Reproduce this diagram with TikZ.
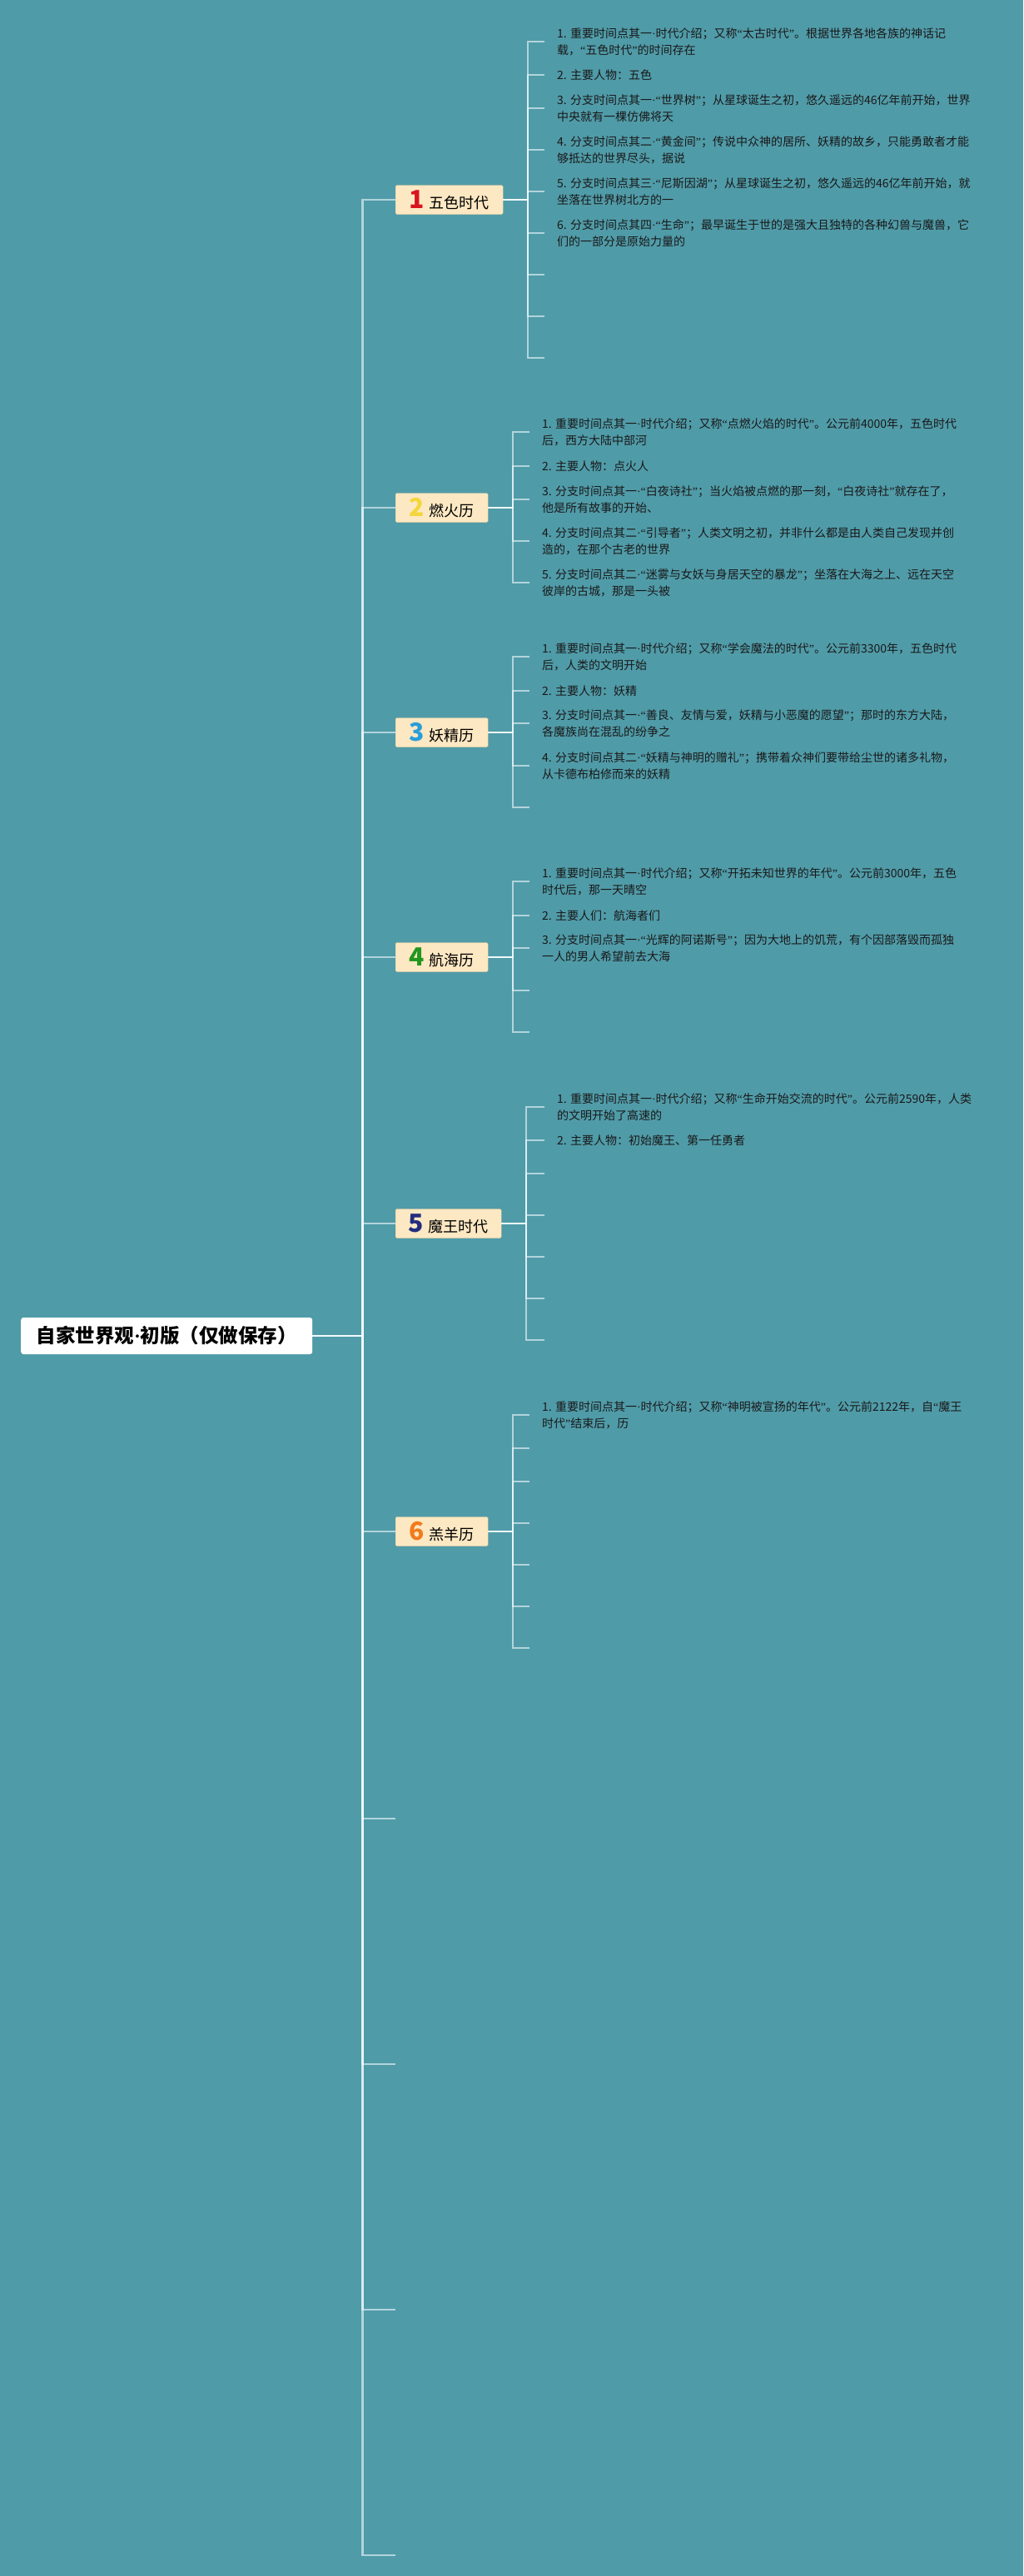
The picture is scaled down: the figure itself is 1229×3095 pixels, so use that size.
\documentclass[tikz,border=0pt]{standalone}
\usepackage{fontspec}
\usepackage{newunicodechar}
\setmainfont{Noto Sans CJK SC}
\newfontfamily\latinfont{Liberation Serif}
\newunicodechar{“}{{\latinfont\symbol{"201C}}}
\newunicodechar{”}{{\latinfont\symbol{"201D}}}
\newunicodechar{·}{{\latinfont\symbol{"00B7}}}
\usepackage{tikz}
\definecolor{bg}{HTML}{509BA8}
\definecolor{boxfill}{HTML}{FCE8C3}
\definecolor{boxline}{HTML}{E2C796}
\definecolor{linec}{HTML}{F2FBFF}
\definecolor{n1}{HTML}{D9151F}
\definecolor{n2}{HTML}{F4D63C}
\definecolor{n3}{HTML}{2B9ED9}
\definecolor{n4}{HTML}{22961F}
\definecolor{n5}{HTML}{232C7E}
\definecolor{n6}{HTML}{F27B1C}
\newcommand{\badge}[2]{{\fontsize{30}{30}\selectfont\bfseries\color{#1}#2}\hspace{6pt}}

\begin{document}
\begin{tikzpicture}[x=1pt,y=-1pt,
  root/.style={fill=white,rounded corners=3pt,anchor=west,minimum width=350pt,minimum height=44pt,font=\fontsize{23.5}{23.5}\selectfont\bfseries},
  topic/.style={draw=boxline,fill=boxfill,rounded corners=1.5pt,anchor=west,minimum height=35pt,inner xsep=0pt,inner ysep=0pt,font=\fontsize{18}{18}\selectfont},
  leaf/.style={anchor=west,align=left,inner xsep=15pt,inner ysep=0pt,font=\fontsize{14}{20}\selectfont,text=black!90},
  link/.style={draw=linec,draw opacity=0.6,line width=2.5pt},
  sublink/.style={draw=linec,draw opacity=0.6,line width=2pt}]
  \fill[bg] (0,0) rectangle (1229,3095);
  \useasboundingbox (0,0) rectangle (1229,3095);

  \node[root] (root) at (25,1605) {自家世界观·初版（仅做保存）};

  % main topics
  \node[topic,minimum width=129pt] (b1) at (475,240) {\badge{n1}{1}五色时代};
  \node[topic,minimum width=111pt] (b2) at (475,610) {\badge{n2}{2}燃火历};
  \node[topic,minimum width=111pt] (b3) at (475,880) {\badge{n3}{3}妖精历};
  \node[topic,minimum width=111pt] (b4) at (475,1150) {\badge{n4}{4}航海历};
  \node[topic,minimum width=127pt] (b5) at (475,1470) {\badge{n5}{5}魔王时代};
  \node[topic,minimum width=111pt] (b6) at (475,1840) {\badge{n6}{6}羔羊历};
  \coordinate (b7) at (475,2185);
  \coordinate (b8) at (475,2480);
  \coordinate (b9) at (475,2775);
  \coordinate (b10) at (475,3070);

  % 五色时代
  \node[leaf] (l11) at (654,50) {1. 重要时间点其一·时代介绍；又称“太古时代”。根据世界各地各族的神话记\\载，“五色时代”的时间存在};
  \node[leaf] (l12) at (654,90) {2. 主要人物：五色};
  \node[leaf] (l13) at (654,130) {3. 分支时间点其一·“世界树”；从星球诞生之初，悠久遥远的46亿年前开始，世界\\中央就有一棵仿佛将天};
  \node[leaf] (l14) at (654,180) {4. 分支时间点其二·“黄金间”；传说中众神的居所、妖精的故乡，只能勇敢者才能\\够抵达的世界尽头，据说};
  \node[leaf] (l15) at (654,230) {5. 分支时间点其三·“尼斯因湖”；从星球诞生之初，悠久遥远的46亿年前开始，就\\坐落在世界树北方的一};
  \node[leaf] (l16) at (654,280) {6. 分支时间点其四·“生命”；最早诞生于世的是强大且独特的各种幻兽与魔兽，它\\们的一部分是原始力量的};
  \coordinate (l17) at (654,330);
  \coordinate (l18) at (654,380);
  \coordinate (l19) at (654,430);

  % 燃火历
  \node[leaf] (l21) at (636,519) {1. 重要时间点其一·时代介绍；又称“点燃火焰的时代”。公元前4000年，五色时代\\后，西方大陆中部河};
  \node[leaf] (l22) at (636,560) {2. 主要人物：点火人};
  \node[leaf] (l23) at (636,600) {3. 分支时间点其一·“白夜诗社”；当火焰被点燃的那一刻，“白夜诗社”就存在了，\\他是所有故事的开始、};
  \node[leaf] (l24) at (636,650) {4. 分支时间点其二·“引导者”；人类文明之初，并非什么都是由人类自己发现并创\\造的，在那个古老的世界};
  \node[leaf] (l25) at (636,700) {5. 分支时间点其二·“迷雾与女妖与身居天空的暴龙”；坐落在大海之上、远在天空\\彼岸的古城，那是一头被};

  % 妖精历
  \node[leaf] (l31) at (636,789) {1. 重要时间点其一·时代介绍；又称“学会魔法的时代”。公元前3300年，五色时代\\后，人类的文明开始};
  \node[leaf] (l32) at (636,830) {2. 主要人物：妖精};
  \node[leaf] (l33) at (636,869) {3. 分支时间点其一·“善良、友情与爱，妖精与小恶魔的愿望”；那时的东方大陆，\\各魔族尚在混乱的纷争之};
  \node[leaf] (l34) at (636,920) {4. 分支时间点其二·“妖精与神明的赠礼”；携带着众神们要带给尘世的诸多礼物，\\从卡德布柏修而来的妖精};
  \coordinate (l35) at (636,970);

  % 航海历
  \node[leaf] (l41) at (636,1059) {1. 重要时间点其一·时代介绍；又称“开拓未知世界的年代”。公元前3000年，五色\\时代后，那一天晴空};
  \node[leaf] (l42) at (636,1100) {2. 主要人们：航海者们};
  \node[leaf] (l43) at (636,1139) {3. 分支时间点其一·“光辉的阿诺斯号”；因为大地上的饥荒，有个因部落毁而孤独\\一人的男人希望前去大海};
  \coordinate (l44) at (636,1190);
  \coordinate (l45) at (636,1240);

  % 魔王时代
  \node[leaf] (l51) at (654,1330) {1. 重要时间点其一·时代介绍；又称“生命开始交流的时代”。公元前2590年，人类\\的文明开始了高速的};
  \node[leaf] (l52) at (654,1370) {2. 主要人物：初始魔王、第一任勇者};
  \coordinate (l53) at (654,1410);
  \coordinate (l54) at (654,1460);
  \coordinate (l55) at (654,1510);
  \coordinate (l56) at (654,1560);
  \coordinate (l57) at (654,1610);

  % 羔羊历
  \node[leaf] (l61) at (636,1700) {1. 重要时间点其一·时代介绍；又称“神明被宣扬的年代”。公元前2122年，自“魔王\\时代”结束后，历};
  \coordinate (l62) at (636,1740);
  \coordinate (l63) at (636,1780);
  \coordinate (l64) at (636,1830);
  \coordinate (l65) at (636,1880);
  \coordinate (l66) at (636,1930);
  \coordinate (l67) at (636,1980);

  % connectors
  \foreach \b in {b1,b2,b3,b4,b5,b6,b7,b8,b9,b10}
    \draw[link] (root.east) -- ++(60,0) |- (\b);
  \foreach \l in {l11,l12,l13,l14,l15,l16,l17,l18,l19}
    \draw[sublink] (b1.east) -- ++(30,0) |- (\l);
  \foreach \l in {l21,l22,l23,l24,l25}
    \draw[sublink] (b2.east) -- ++(30,0) |- (\l);
  \foreach \l in {l31,l32,l33,l34,l35}
    \draw[sublink] (b3.east) -- ++(30,0) |- (\l);
  \foreach \l in {l41,l42,l43,l44,l45}
    \draw[sublink] (b4.east) -- ++(30,0) |- (\l);
  \foreach \l in {l51,l52,l53,l54,l55,l56,l57}
    \draw[sublink] (b5.east) -- ++(30,0) |- (\l);
  \foreach \l in {l61,l62,l63,l64,l65,l66,l67}
    \draw[sublink] (b6.east) -- ++(30,0) |- (\l);
\end{tikzpicture}
\end{document}
